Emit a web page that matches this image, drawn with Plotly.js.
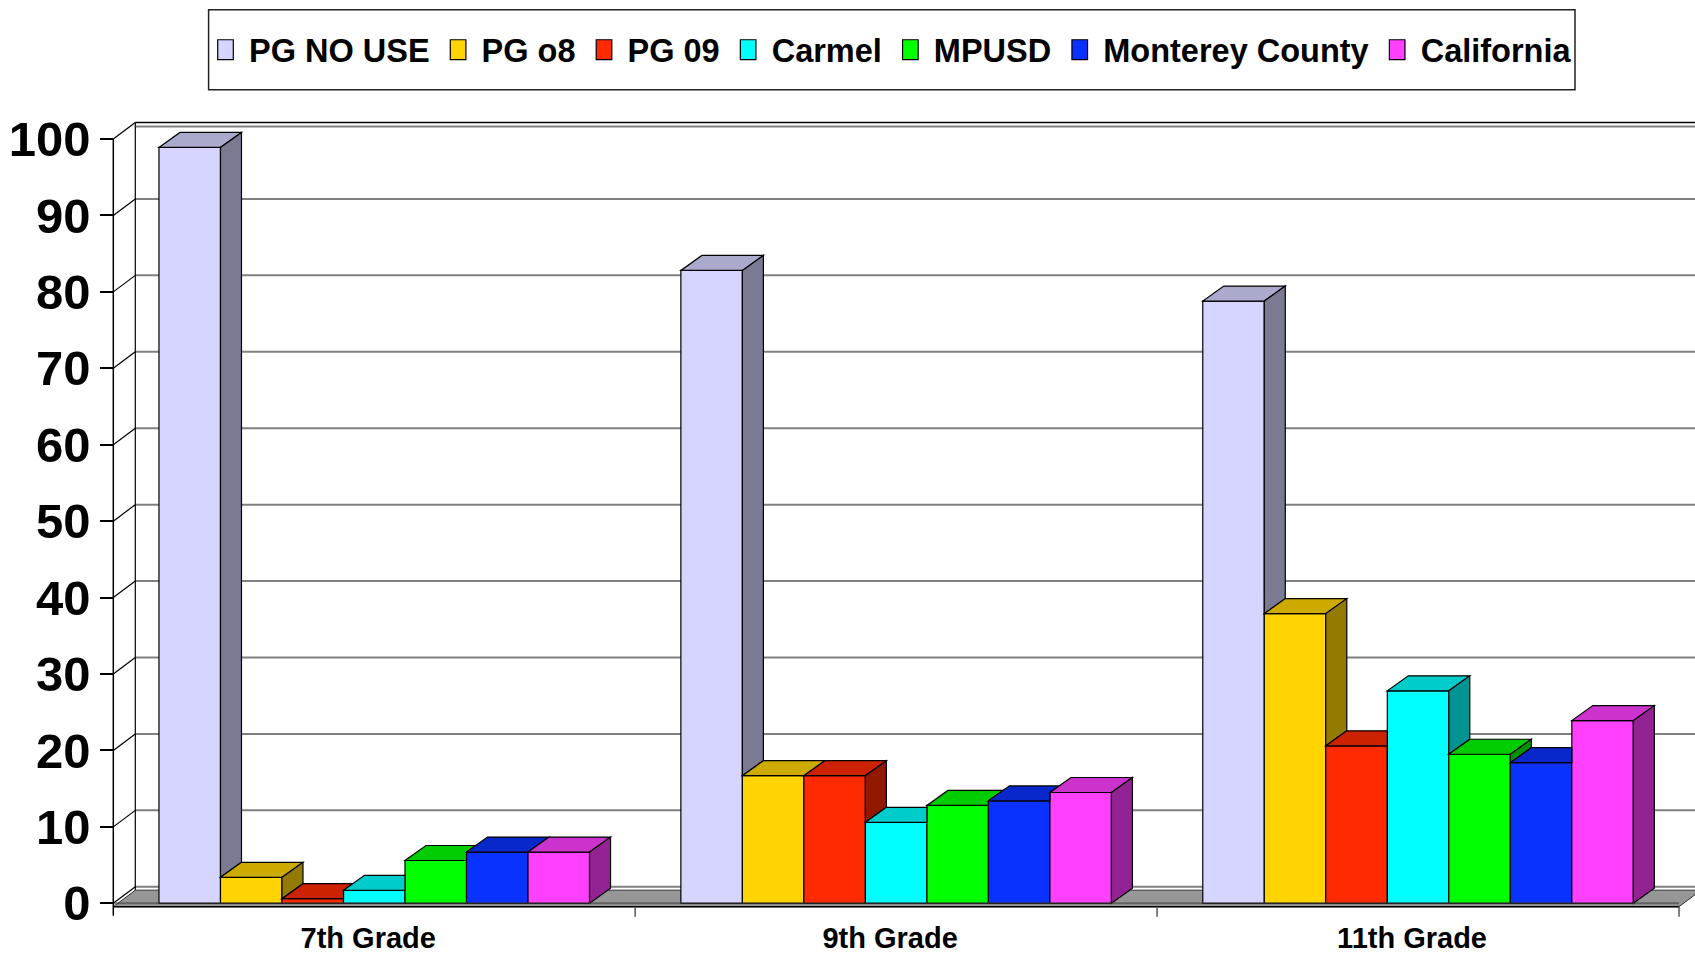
<!DOCTYPE html>
<html>
<head>
<meta charset="utf-8">
<script src="https://cdn.plot.ly/plotly-3.0.1.min.js"></script>
<style>html,body{margin:0;padding:0;background:#fff;}#chart{width:1695px;height:953px;}</style>
</head>
<body>
<div id="chart"></div>
<script>
// ---- data ----
const categories = ['7th Grade', '9th Grade', '11th Grade'];
const seriesNames = ['PG NO USE', 'PG o8', 'PG 09', 'Carmel', 'MPUSD', 'Monterey County', 'California'];
const pgNoUse = [98.9, 82.8, 78.8];
const pgO8 = [3.4, 16.7, 37.9];
const pg09 = [0.6, 16.7, 20.6];
const carmel = [1.7, 10.6, 27.8];
const mpusd = [5.6, 12.8, 19.5];
const montereyCounty = [6.7, 13.4, 18.4];
const california = [6.7, 14.5, 23.9];
const yTickVals = [0, 10, 20, 30, 40, 50, 60, 70, 80, 90, 100];

const seriesValues = [pgNoUse, pgO8, pg09, carmel, mpusd, montereyCounty, california];

// ---- styles ----
const frontColors = ['#D5D5FF', '#FFD400', '#FF2A00', '#00FFFF', '#00FF00', '#0A32FF', '#FF40FF'];
const topColors   = ['#AAAACC', '#CCAA00', '#CC2200', '#00CCCC', '#00CC00', '#0828CC', '#CC33CC'];
const sideColors  = ['#7A7A93', '#937A00', '#921800', '#009393', '#009300', '#061C93', '#932293'];

// ---- geometry (pixels) ----
const W = 1695, H = 953;
const plotLeft = 100, plotRight = 1695, plotTop = 112, plotBottom = 918;
const axisX = 113.3;          // front y-axis pixel x
const zeroY = 903.3;          // pixel y of value 0
const catPx = 521.9;          // pixels per category
const pxPerUnit = 7.643;      // pixels per value unit
const bargap = 0.175;

const xRange = [-0.5 - (axisX - plotLeft) / catPx, -0.5 + (plotRight - axisX) / catPx];
const yRange = [-(plotBottom - zeroY) / pxPerUnit, (zeroY - plotTop) / pxPerUnit];

const dxB = 21 / catPx, dyB = 15 / pxPerUnit;     // bar depth
const dxW = 22 / catPx, dyW = 16.5 / pxPerUnit;   // wall depth
const slab = 3.4 / pxPerUnit;                     // floor thickness
const nCat = categories.length, nSer = seriesNames.length;
const xIdx = categories.map((c, i) => i);

function path(pts) {
  return 'M' + pts.map(p => p[0] + ',' + p[1]).join('L') + 'Z';
}

const shapes = [];
const outline = {color: '#000', width: 1.2};
const plotW = plotRight - plotLeft, plotH = plotBottom - plotTop;

// legend box
shapes.push({type: 'rect', xref: 'paper', yref: 'paper', layer: 'below',
  x0: (208.6 - plotLeft) / plotW, x1: (1575 - plotLeft) / plotW,
  y0: (plotBottom - 89.7) / plotH, y1: (plotBottom - 9.7) / plotH,
  line: {color: '#222', width: 1.5}, fillcolor: '#fff'});

// back wall gridlines and left wall diagonals
const xBackL = -0.5 + dxW;
yTickVals.forEach(v => {
  shapes.push({type: 'line', xref: 'x', yref: 'y', layer: 'below',
    x0: xBackL, x1: xRange[1] + 0.1, y0: v + dyW, y1: v + dyW,
    line: {color: v === 100 ? '#000' : '#808080', width: v === 100 ? 1.5 : 2}});
  shapes.push({type: 'line', xref: 'x', yref: 'y', layer: 'below',
    x0: -0.5, x1: xBackL, y0: v, y1: v + dyW, line: {color: '#000', width: 1.2}});
});
shapes.push({type: 'line', xref: 'x', yref: 'y', layer: 'below',
  x0: xBackL, x1: xRange[1] + 0.1, y0: 100 + dyW - 4 / pxPerUnit, y1: 100 + dyW - 4 / pxPerUnit,
  line: {color: '#808080', width: 2}});
shapes.push({type: 'line', xref: 'x', yref: 'y', layer: 'below',
  x0: xBackL, x1: xBackL, y0: dyW - slab, y1: 100 + dyW, line: {color: '#000', width: 1.2}});

// floor
const xEnd = -0.5 + nCat;
shapes.push({type: 'path', xref: 'x', yref: 'y', layer: 'below',
  path: path([[-0.5, -slab], [xEnd, -slab], [xEnd + dxW, -slab + dyW], [-0.5 + dxW, -slab + dyW]]),
  fillcolor: '#969696', line: {color: '#333', width: 1}});

// bar 3D faces (top and right side), clipped by the neighbouring bar on the right
const G = 1 - bargap, bw = G / nSer;
for (let j = 0; j < nCat; j++) {
  for (let i = 0; i < nSer; i++) {
    const v = seriesValues[i][j];
    const L = xIdx[j] - G / 2 + i * bw, R = L + bw;
    const hasNext = i < nSer - 1;
    const nv = hasNext ? seriesValues[i + 1][j] : -Infinity;
    let top;
    if (hasNext && nv > v) {
      const s = Math.max(0, (v + dyB - nv) / dyB);
      top = [[L, v], [R, v], [R, Math.min(nv, v + dyB)], [R + s * dxB, v + dyB], [L + dxB, v + dyB]];
    } else {
      top = [[L, v], [R, v], [R + dxB, v + dyB], [L + dxB, v + dyB]];
    }
    shapes.push({type: 'path', xref: 'x', yref: 'y', layer: 'above', path: path(top),
      fillcolor: topColors[i], line: outline});
    const lo = hasNext ? Math.max(nv, 0) : 0;
    if (v > lo) {
      shapes.push({type: 'path', xref: 'x', yref: 'y', layer: 'above',
        path: path([[R, lo], [R + dxB, lo + dyB], [R + dxB, v + dyB], [R, v]]),
        fillcolor: sideColors[i], line: outline});
    }
  }
}

// floor front edge line across bars
shapes.push({type: 'line', xref: 'x', yref: 'y', layer: 'above',
  x0: -0.5, x1: xEnd, y0: 0, y1: 0, line: {color: 'rgba(60,60,60,0.6)', width: 2}});
// x axis line & category ticks
shapes.push({type: 'line', xref: 'x', yref: 'y', layer: 'above',
  x0: -0.5, x1: xEnd, y0: -slab, y1: -slab, line: {color: '#000', width: 1.5}});
for (let k = 1; k <= nCat; k++) {
  shapes.push({type: 'line', xref: 'x', yref: 'y', layer: 'above',
    x0: -0.5 + k, x1: -0.5 + k, y0: -slab, y1: -slab - 10 / pxPerUnit, line: {color: '#555', width: 1.5}});
}
// y axis line
shapes.push({type: 'line', xref: 'x', yref: 'y', layer: 'above',
  x0: -0.5, x1: -0.5, y0: -slab - 9 / pxPerUnit, y1: 100, line: {color: '#000', width: 1.5}});

const traces = seriesNames.map((name, i) => ({
  type: 'bar', name: name, x: xIdx, y: seriesValues[i],
  marker: {color: frontColors[i], line: {color: '#000', width: 1.2}},
  hoverinfo: 'name+y'
}));

const fontFam = '"Liberation Sans", Arial, sans-serif';
const layout = {
  width: W, height: H,
  margin: {l: plotLeft, r: W - plotRight, t: plotTop, b: H - plotBottom, pad: 0},
  paper_bgcolor: '#fff', plot_bgcolor: 'rgba(0,0,0,0)',
  barmode: 'group', bargap: bargap, bargroupgap: 0,
  showlegend: true,
  legend: {orientation: 'h', x: (202 - plotLeft) / plotW, xanchor: 'left',
    y: (plotBottom - 50) / plotH, yanchor: 'middle', itemwidth: 37,
    bgcolor: 'rgba(0,0,0,0)', borderwidth: 0,
    font: {family: fontFam, size: 32.5, color: '#000', weight: 'bold'}},
  xaxis: {type: 'linear', range: xRange, tickvals: xIdx, ticktext: categories,
    showgrid: false, zeroline: false, showline: false, ticks: '', ticklabelshift: -6,
    tickfont: {family: fontFam, size: 29, color: '#000', weight: 'bold'}, fixedrange: true},
  yaxis: {type: 'linear', range: yRange, tickvals: yTickVals, anchor: 'free',
    position: (axisX - plotLeft) / plotW,
    showgrid: false, zeroline: false, showline: false,
    ticks: 'outside', ticklen: 13, tickwidth: 1.5, tickcolor: '#000',
    tickfont: {family: fontFam, size: 49, color: '#000', weight: 'bold'}, fixedrange: true},
  shapes: shapes
};

Plotly.newPlot('chart', traces, layout, {displayModeBar: false, responsive: false}).then(gd => {
  // enlarge legend swatches to the taller boxes of the original (keep Plotly's own placement)
  gd.querySelectorAll('.legend .legendpoints path').forEach(p => {
    const t = p.getAttribute('transform') || '';
    p.setAttribute('transform', t + ' scale(1.3,1.65)');
    p.style.vectorEffect = 'non-scaling-stroke';
  });
});
</script>
</body>
</html>
